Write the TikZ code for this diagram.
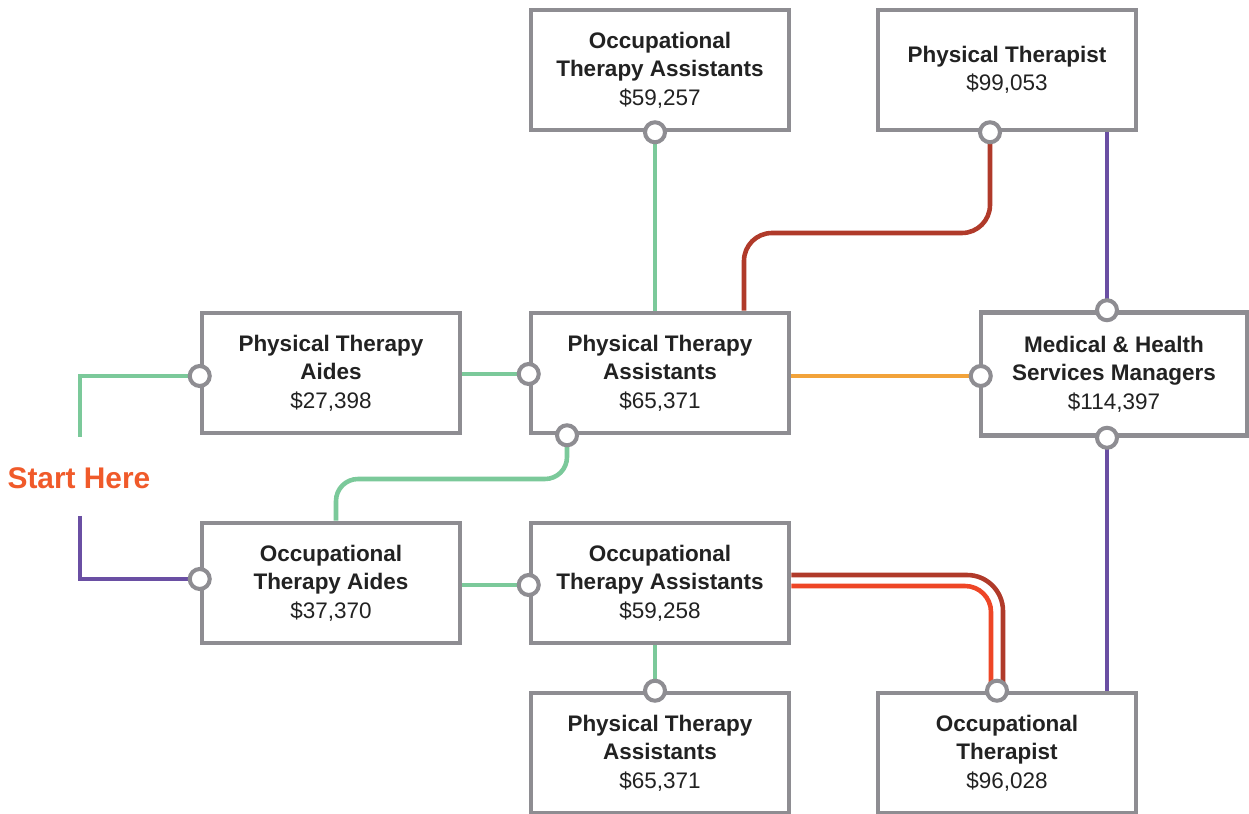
\documentclass[tikz,border=0pt]{standalone}
\usepackage{fontspec}
\setmainfont{Liberation Sans}
\usetikzlibrary{positioning}

\definecolor{boxgray}{HTML}{8E8D92}
\definecolor{textdark}{HTML}{222222}
\definecolor{lgreen}{HTML}{7BC99A}
\definecolor{lpurple}{HTML}{6A4FA3}
\definecolor{lorange}{HTML}{F2A33A}
\definecolor{ldarkred}{HTML}{B03A2A}
\definecolor{lred}{HTML}{EE4626}
\definecolor{starttext}{HTML}{F05A2A}

\begin{document}
\begin{tikzpicture}[x=0.02cm, y=-0.02cm,
    job/.style={draw=boxgray, line width=2.6pt, fill=white, minimum width=5.16cm,
        minimum height=2.4cm, align=center, inner sep=0pt, text=textdark,
        font=\fontsize{12.8}{16.2}\selectfont},
    port/.style={circle, draw=boxgray, line width=2.3pt, fill=white,
        minimum size=0.4cm, inner sep=0pt},
    link/.style={line width=2.6pt}]
    \useasboundingbox (0,0) rectangle (1249,814);

    % --- Boxes ---
    \node[job] (ota1) at (660,70) {\textbf{Occupational}\\\textbf{Therapy Assistants}\\\$59,257};
    \node[job] (pt) at (1007,70) {\textbf{Physical Therapist}\\\$99,053};
    \node[job] (ptaides) at (331,373) {\textbf{Physical Therapy}\\\textbf{Aides}\\\$27,398};
    \node[job] (pta1) at (660,373) {\textbf{Physical Therapy}\\\textbf{Assistants}\\\$65,371};
    \node[job, minimum width=5.32cm, minimum height=2.46cm] (mhsm) at (1114,374)
        {\textbf{Medical \& Health}\\\textbf{Services Managers}\\\$114,397};
    \node[job] (otaides) at (331,583) {\textbf{Occupational}\\\textbf{Therapy Aides}\\\$37,370};
    \node[job] (ota2) at (660,583) {\textbf{Occupational}\\\textbf{Therapy Assistants}\\\$59,258};
    \node[job] (pta2) at (660,753) {\textbf{Physical Therapy}\\\textbf{Assistants}\\\$65,371};
    \node[job] (ot) at (1007,753) {\textbf{Occupational}\\\textbf{Therapist}\\\$96,028};

    \node[text=starttext, font=\fontsize{17}{20}\selectfont\bfseries] (start) at (79,478) {Start Here};

    % --- Ports ---
    \coordinate (ota1-s) at ([xshift=-0.1cm]ota1.south);
    \coordinate (pt-s) at ([xshift=-0.34cm]pt.south);
    \coordinate (ptaides-w) at ([yshift=-0.06cm]ptaides.west);
    \coordinate (pta1-w) at ([yshift=-0.02cm]pta1.west);
    \coordinate (pta1-s) at ([xshift=-1.86cm]pta1.south);
    \coordinate (mhsm-n) at ([xshift=-0.14cm]mhsm.north);
    \coordinate (mhsm-w) at ([yshift=-0.04cm,xshift=0.04cm]mhsm.west);
    \coordinate (mhsm-s) at ([xshift=-0.14cm]mhsm.south);
    \coordinate (otaides-w) at ([yshift=0.08cm]otaides.west);
    \coordinate (ota2-w) at ([yshift=-0.04cm]ota2.west);
    \coordinate (pta2-n) at ([xshift=-0.1cm]pta2.north);
    \coordinate (ot-n) at ([xshift=-0.2cm]ot.north);

    % --- Bends ---
    \coordinate (pta1-top) at ([xshift=1.68cm]pta1.north);
    \coordinate (otaides-top) at ([xshift=0.1cm]otaides.north);
    \coordinate (redbend) at (880,233);
    \coordinate (greenbend) at (450,479);
    \coordinate (start-up) at (80,437);
    \coordinate (start-down) at (80,516);

    % --- Green lines ---
    \draw[link, lgreen] (ptaides-w) -| (start-up);
    \draw[link, lgreen] (ptaides.east |- pta1-w) -- (pta1-w);
    \draw[link, lgreen] (ota1-s) -- (ota1-s |- pta1.north);
    \draw[link, lgreen, rounded corners=0.44cm] (pta1-s) |- (greenbend) -| (otaides-top);
    \draw[link, lgreen] (otaides.east |- ota2-w) -- (ota2-w);
    \draw[link, lgreen] (ota2.south -| pta2-n) -- (pta2-n);

    % --- Purple lines ---
    \draw[link, lpurple] (start-down) |- (otaides-w);
    \draw[link, lpurple] (pt.south -| mhsm-n) -- (mhsm-n);
    \draw[link, lpurple] (mhsm-s) -- (mhsm-s |- ot.north);

    % --- Orange and red lines ---
    \draw[link, lorange] (pta1.east |- mhsm-w) -- (mhsm-w);
    \draw[link, ldarkred, rounded corners=0.56cm] (pt-s) |- (redbend) -| (pta1-top);
    \draw[link, ldarkred, rounded corners=0.72cm]
        ([yshift=0.16cm]ota2.east) -| ([xshift=0.12cm]ot-n);
    \draw[link, lred, rounded corners=0.52cm]
        ([yshift=-0.06cm]ota2.east) -| ([xshift=-0.12cm]ot-n);

    % ports on top
    \foreach \p in {ota1-s, pt-s, ptaides-w, pta1-w, pta1-s, mhsm-n, mhsm-w,
        mhsm-s, otaides-w, ota2-w, pta2-n, ot-n}
        \node[port] at (\p) {};
\end{tikzpicture}
\end{document}
